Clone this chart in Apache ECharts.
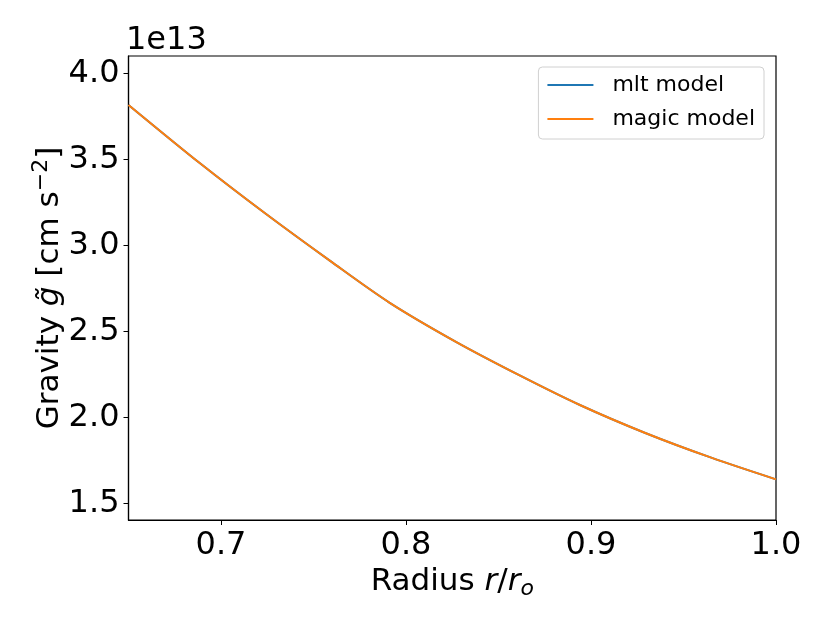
<!DOCTYPE html>
<html>
<head>
<meta charset="utf-8">
<script src="https://cdn.jsdelivr.net/npm/echarts@6/dist/echarts.min.js"></script>
<style>
html, body { margin: 0; padding: 0; background: #fff; }
#chart { width: 830px; height: 623px; }
</style>
</head>
<body>
<div id="chart"></div>
<script>
// radius r/r_o
var radius = [0.65, 0.689, 0.724, 0.759, 0.791, 0.827, 0.862, 0.894, 0.929, 0.965, 1.00]
// gravity in units of 1e13 cm s^-2
var mltGravity = [3.816, 3.474, 3.185, 2.91, 2.668, 2.44, 2.242, 2.073, 1.912, 1.767, 1.641]
var magicGravity = [3.816, 3.474, 3.185, 2.91, 2.668, 2.44, 2.242, 2.073, 1.912, 1.767, 1.641]
var xTicks = [0.7, 0.8, 0.9, 1.0]
var yTicks = [1.5, 2.0, 2.5, 3.0, 3.5, 4.0]
var seriesNames = ['mlt model', 'magic model']

var font = 'DejaVu Sans'
var fs = 32   // tick labels
var ns = 31   // axis names

function pairs(xs, ys) {
    return xs.map(function (x, i) { return [x, ys[i]] })
}

var myChart = echarts.init(document.getElementById('chart'))
var option = {
    animation: false,
    backgroundColor: '#fff',
    color: ['#1f77b4', '#ff7f0e'],
    textStyle: { fontFamily: font },
    grid: {
        left: 128.5, right: 54, top: 56, bottom: 103,
        show: true, borderColor: '#000', borderWidth: 1.2, containLabel: false
    },
    graphic: [{
        type: 'text', left: 126, top: 25,
        style: { text: '1e13', font: fs + 'px "DejaVu Sans"', fill: '#000' }
    }],
    legend: {
        orient: 'vertical', right: 66, top: 67,
        data: seriesNames,
        icon: 'rect', itemWidth: 46, itemHeight: 2, itemGap: 10,
        padding: [6, 9, 8, 9],
        borderColor: '#d0d0d0', borderWidth: 1, borderRadius: 4,
        textStyle: { fontFamily: font, fontSize: 22, color: '#000', lineHeight: 24, padding: [0, 0, 0, 14] }
    },
    xAxis: {
        type: 'value', min: 0.65, max: 1.0,
        name: 'Radius {it|r}/{it|r}{sub|o}',
        nameLocation: 'middle', nameGap: 44, nameMoveOverlap: false,
        nameTextStyle: {
            fontFamily: font, fontSize: ns, color: '#000',
            rich: {
                it: { fontFamily: font, fontSize: ns, fontStyle: 'italic', color: '#000' },
                sub: { fontFamily: font, fontSize: 22, fontStyle: 'italic', color: '#000', padding: [14, 0, 0, 0] }
            }
        },
        splitLine: { show: false },
        axisLine: { show: true, onZero: false, lineStyle: { color: '#000', width: 1.2 } },
        axisTick: { show: true, length: 5, customValues: xTicks, lineStyle: { color: '#000' } },
        axisLabel: {
            customValues: xTicks, fontSize: fs, color: '#000', margin: 10, fontFamily: font,
            formatter: function (v) { return v.toFixed(1) }
        }
    },
    yAxis: {
        type: 'value', min: 1.405, max: 4.1,
        name: 'Gravity {it|g̃} [cm s{sup|−2}]',
        nameLocation: 'middle', nameGap: 60, nameRotate: 90, nameMoveOverlap: false,
        nameTextStyle: {
            fontFamily: font, fontSize: ns, color: '#000',
            rich: {
                it: { fontFamily: font, fontSize: ns, fontStyle: 'italic', color: '#000' },
                sup: { fontFamily: font, fontSize: 22, color: '#000', padding: [0, 0, 16, 0] }
            }
        },
        splitLine: { show: false },
        axisLine: { show: true, onZero: false, lineStyle: { color: '#000', width: 1.2 } },
        axisTick: { show: true, length: 5, customValues: yTicks, lineStyle: { color: '#000' } },
        axisLabel: {
            customValues: yTicks, fontSize: fs, color: '#000', margin: 9, fontFamily: font,
            formatter: function (v) { return v.toFixed(1) }
        }
    },
    series: [
        {
            name: seriesNames[0], type: 'line', data: pairs(radius, mltGravity),
            smooth: 0.3, symbol: 'none', lineStyle: { width: 2, color: '#1f77b4' }
        },
        {
            name: seriesNames[1], type: 'line', data: pairs(radius, magicGravity),
            smooth: 0.3, symbol: 'none', lineStyle: { width: 2, color: '#ff7f0e' }
        }
    ]
}
myChart.setOption(option)
</script>
</body>
</html>
